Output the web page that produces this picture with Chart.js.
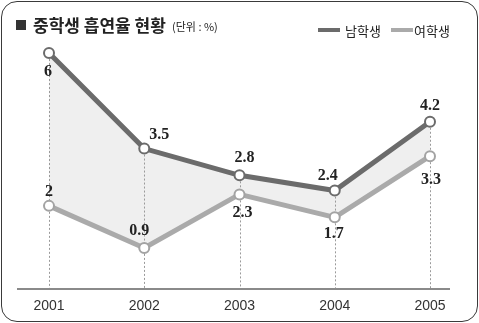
<!DOCTYPE html>
<html>
<head>
<meta charset="utf-8">
<script src="https://cdn.jsdelivr.net/npm/chart.js@4"></script>
<style>
  body { margin:0; background:#fff; }
  #wrap { position:relative; width:479px; height:323px; overflow:hidden; }
  #frame { position:absolute; left:1px; top:1px; width:477px; height:321px; box-sizing:border-box;
    border:1.5px solid #3a3a3a; border-radius:16px; }
  canvas { position:absolute; left:0; top:0; }
  .ttl { position:absolute; font-family:"Noto Sans CJK KR", sans-serif; color:#222; white-space:nowrap; }
  .sw { position:absolute; height:4px; width:22px; }
</style>
</head>
<body>
<div id="wrap">
  <div id="frame"></div>
  <canvas id="c" width="479" height="323"></canvas>
  <div class="ttl" style="left:16px;top:20px;width:10px;height:10px;background:#333;"></div>
  <div class="ttl" style="left:33px;top:14px;font-size:17px;font-weight:bold;line-height:22px;">중학생 흡연율 현황</div>
  <div class="ttl" style="left:172px;top:19px;font-size:11px;line-height:14px;">(단위 : %)</div>
  <div class="sw" style="left:318px;top:28px;background:#6b6b6b;"></div>
  <div class="ttl" style="left:345px;top:23px;font-size:13px;line-height:16px;">남학생</div>
  <div class="sw" style="left:391px;top:28px;background:#aaaaaa;"></div>
  <div class="ttl" style="left:414px;top:23px;font-size:13px;line-height:16px;">여학생</div>
</div>
<script>
// data
const years = ['2001', '2002', '2003', '2004', '2005'];
const boys = [6, 3.5, 2.8, 2.4, 4.2];
const girls = [2, 0.9, 2.3, 1.7, 3.3];

// label nudges (dx, dy from the point)
const boysLabelOffset = [[-1, 19], [15, -14], [5, -17], [-7, -15], [0, -16]];
const girlsLabelOffset = [[0, -14], [-5, -17], [3, 18], [-1, 17], [1, 24]];

const extras = {
  id: 'extras',
  afterDatasetsDraw(chart) {
    const ctx = chart.ctx;
    const area = chart.chartArea;
    const m = chart.getDatasetMeta(0).data;
    const f = chart.getDatasetMeta(1).data;
    const r = 6;
    ctx.save();
    // dotted guides
    ctx.strokeStyle = '#9a9a9a';
    ctx.lineWidth = 1;
    ctx.setLineDash([2, 2]);
    m.forEach((p, i) => {
      const q = f[i];
      const x = Math.round(p.x) + 0.5;
      ctx.beginPath();
      ctx.moveTo(x, p.y + r);
      ctx.lineTo(x, q.y - r);
      ctx.moveTo(x, q.y + r);
      ctx.lineTo(x, area.bottom);
      ctx.stroke();
    });
    ctx.setLineDash([]);
    // base line
    ctx.strokeStyle = '#8a8a8a';
    ctx.lineWidth = 2;
    ctx.beginPath();
    ctx.moveTo(area.left - 32, area.bottom);
    ctx.lineTo(area.right + 20, area.bottom);
    ctx.stroke();
    ctx.restore();
  },
  afterDraw(chart) {
    const ctx = chart.ctx;
    ctx.save();
    ctx.font = 'bold 16px "Liberation Serif", serif';
    ctx.fillStyle = '#222';
    ctx.textAlign = 'center';
    ctx.textBaseline = 'middle';
    chart.getDatasetMeta(0).data.forEach((p, i) => {
      ctx.fillText(String(boys[i]), p.x + boysLabelOffset[i][0], p.y + boysLabelOffset[i][1]);
    });
    chart.getDatasetMeta(1).data.forEach((p, i) => {
      ctx.fillText(String(girls[i]), p.x + girlsLabelOffset[i][0], p.y + girlsLabelOffset[i][1]);
    });
    ctx.restore();
  }
};

new Chart(document.getElementById('c').getContext('2d'), {
  type: 'line',
  data: {
    labels: years,
    datasets: [
      {
        label: '남학생',
        data: boys,
        borderColor: '#6b6b6b',
        borderWidth: 5,
        backgroundColor: '#efefef',
        fill: '+1',
        pointRadius: 5,
        pointBorderWidth: 2,
        pointBorderColor: '#6b6b6b',
        pointBackgroundColor: '#fff',
        tension: 0,
        clip: false
      },
      {
        label: '여학생',
        data: girls,
        borderColor: '#aaaaaa',
        borderWidth: 5,
        fill: false,
        pointRadius: 5,
        pointBorderWidth: 2,
        pointBorderColor: '#a3a3a3',
        pointBackgroundColor: '#fff',
        tension: 0,
        clip: false
      }
    ]
  },
  options: {
    responsive: false,
    animation: false,
    layout: { padding: { left: 49, right: 49, top: 53, bottom: 0 } },
    plugins: {
      legend: { display: false },
      tooltip: { enabled: false },
      filler: { drawTime: 'beforeDatasetsDraw' }
    },
    scales: {
      x: {
        offset: false,
        grid: { display: false, drawTicks: false },
        border: { display: false },
        ticks: { color: '#333', padding: 10, font: { family: '"Liberation Sans", Arial, sans-serif', size: 14, lineHeight: 1 } }
      },
      y: { display: false, min: -0.175, max: 6 }
    }
  },
  plugins: [extras]
});
</script>
</body>
</html>
